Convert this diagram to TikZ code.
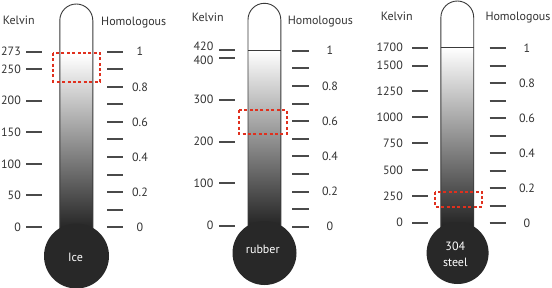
\documentclass[tikz,border=0pt]{standalone}
\usepackage{fontspec}
\setmainfont{PT Sans}
\definecolor{txt}{HTML}{333333}
\definecolor{tickgray}{HTML}{4A4A4A}
\definecolor{tubegray}{HTML}{3A3A3A}
\definecolor{bulbgray}{HTML}{282828}
\definecolor{midgray}{HTML}{B0B0B0}
\definecolor{darkfill}{HTML}{222222}
\definecolor{boxred}{HTML}{E0301E}
\newcommand\mythermo[7]{%
  \path[fill=white] ({#1-#2},#6) -- ({#1-#2},{#3+#2}) arc[start angle=180,end angle=360,radius=#2] -- ({#1+#2},#6) -- cycle;
  \shade[tubeshade] ({#1-#2},#4) rectangle ({#1+#2},{#6-25});
  \draw[tubeline] ({#1-#2},#6) -- ({#1-#2},{#3+#2}) arc[start angle=180,end angle=360,radius=#2] -- ({#1+#2},#6);
  \fill[bulbgray] (#5,#6) circle[radius=#7];
}
\begin{document}
\begin{tikzpicture}[x=1pt,y=-1pt,
  tubeline/.style={draw=tubegray,line width=0.9pt},
  tubeshade/.style={top color=white,middle color=midgray,bottom color=darkfill},
  tickmark/.style={draw=tickgray,line width=1.8pt},
  lbl/.style={font=\fontsize{12}{13}\selectfont,text=txt,inner sep=0pt},
  bulbtxt/.style={font=\fontsize{12}{16}\selectfont,text=white,inner sep=0pt,align=center},
  redbox/.style={draw=boxred,line width=2pt,dash pattern=on 3pt off 2.4pt}]
\useasboundingbox (0,0) rectangle (552,287);
\fill[white] (0,0) rectangle (552,287);

% ---------- Ice ----------
\mythermo{76.3}{16.5}{4}{55}{76.5}{256}{32.5}
\foreach \v/\y in {273/51.7,250/69.3,200/100.7,150/132.3,100/164,50/195,0/227.3}{
  \draw[tickmark] (26,{round(\y)}) -- (42,{round(\y)});
  \node[lbl,anchor=east] (ice-k\v) at (21,\y) {\v};
}
\foreach \i in {0,...,10}{\draw[tickmark] (107,{round(51.7+17.56*\i)}) -- (122.7,{round(51.7+17.56*\i)});}
\foreach \t [count=\i from 0] in {1,0.8,0.6,0.4,0.2,0}{
  \node[lbl] (ice-h\i) at (140,{51.7+35.12*\i}) {\t};
}
\node[lbl,anchor=base] (ice-kelvin) at (18.8,24) {Kelvin};
\node[lbl,anchor=base] (ice-homol) at (133.7,25) {Homologous};
\node[bulbtxt,anchor=base] (ice-name) at (75.5,261.7) {Ice};
\draw[redbox] (53.3,52.7) rectangle (100,81.7);

% ---------- rubber ----------
\mythermo{264.4}{16.4}{3.3}{50}{264.5}{253}{32}
\draw[tubeline] (248,50.5) -- (280.7,50.5);
\foreach \v/\y in {420/50,400/58,300/99.7,200/141.7,100/183.3,0/225.7}{
  \draw[tickmark] (219,{round(\y)}) -- (234.7,{round(\y)});
}
\foreach \v/\y in {420/46.7,400/60.7,300/99.7,200/141.7,100/183.3,0/225.7}{
  \node[lbl,anchor=east] (rub-k\v) at (213.5,\y) {\v};
}
\foreach \i in {0,...,10}{\draw[tickmark] (292.3,{round(50.7+17.6*\i)}) -- (309,{round(50.7+17.6*\i)});}
\foreach \t [count=\i from 0] in {1,0.8,0.6,0.4,0.2,0}{
  \node[lbl] (rub-h\i) at (330,{50.7+35.2*\i}) {\t};
}
\node[lbl,anchor=base] (rub-kelvin) at (207.8,21.7) {Kelvin};
\node[lbl,anchor=base] (rub-homol) at (320.3,24) {Homologous};
\node[bulbtxt,anchor=base] (rub-name) at (262.8,253.3) {rubber};
\draw[redbox] (239.3,110.3) rectangle (287,134);

% ---------- 304 steel ----------
\mythermo{457.3}{16.4}{1}{47.7}{457.6}{253}{31}
\draw[tubeline] (440.9,47.5) -- (473.6,47.5);
\foreach \v/\y in {1700/47.7,1500/65.7,1250/91,1000/117.3,750/143.3,500/170,250/196,0/222.7}{
  \draw[tickmark] (412.3,{round(\y)}) -- (428,{round(\y)});
  \node[lbl,anchor=east] (st-k\v) at (403,\y) {\v};
}
\foreach \i in {0,...,10}{\draw[tickmark] (489.7,{round(48.3+17.5*\i)}) -- (505.7,{round(48.3+17.5*\i)});}
\foreach \t [count=\i from 0] in {1,0.8,0.6,0.4,0.2,0}{
  \node[lbl] (st-h\i) at (527,{48.3+35*\i}) {\t};
}
\node[lbl,anchor=base] (st-kelvin) at (396.8,20) {Kelvin};
\node[lbl,anchor=base] (st-homol) at (518,20.7) {Homologous};
\node[bulbtxt] (st-name) at (455.3,253.9) {304\\steel};
\draw[redbox] (434.7,191.5) rectangle (482,206.7);
\end{tikzpicture}
\end{document}
